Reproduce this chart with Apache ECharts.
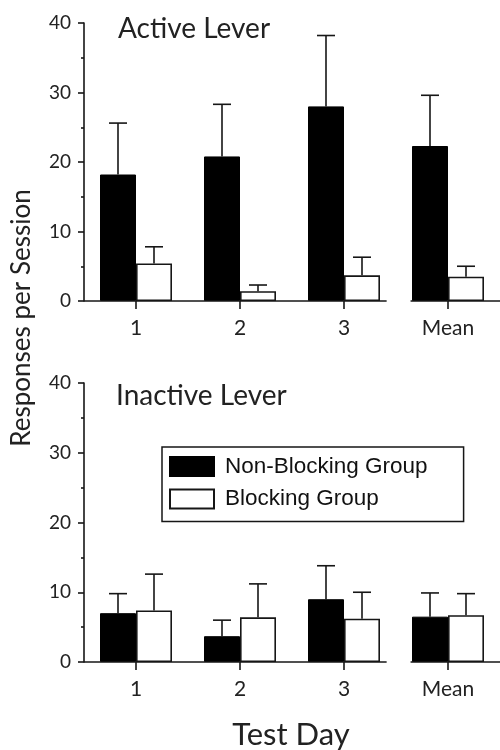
<!DOCTYPE html>
<html>
<head>
<meta charset="utf-8">
<script src="https://cdn.jsdelivr.net/npm/echarts@6/dist/echarts.min.js"></script>
<style>html,body{margin:0;padding:0;background:#fff;}#c{width:500px;height:750px;}</style>
</head>
<body>
<div id="c"></div>
<script>
const categories = ['1', '2', '3', 'Mean'];
const yTicks = { min: 0, max: 40, interval: 10 };

const activeNonBlocking = [18.2, 20.8, 28.0, 22.3];
const activeNonBlockingSEM = [7.4, 7.5, 10.2, 7.3];
const activeBlocking = [5.4, 1.4, 3.7, 3.5];
const activeBlockingSEM = [2.4, 0.9, 2.6, 1.5];

const inactiveNonBlocking = [7.0, 3.7, 9.0, 6.5];
const inactiveNonBlockingSEM = [2.8, 2.3, 4.8, 3.4];
const inactiveBlocking = [7.4, 6.4, 6.2, 6.7];
const inactiveBlockingSEM = [5.2, 4.8, 3.8, 3.1];

// x-axis baseline segments (in category units) with the break before "Mean"
const axisSegments = [[-0.5, 2.41], [2.64, 3.6]];

const panelTitles = ['Active Lever', 'Inactive Lever'];
const seriesNames = ['Non-Blocking Group', 'Blocking Group'];

const INK = '#161616';
const FONT = 'Lato';

function errRender(offset) {
  return function (params, api) {
    const i = api.value(0), v = api.value(1), e = api.value(2);
    const p0 = api.coord([i, v]);
    const p1 = api.coord([i, v + e]);
    const x = p0[0] + offset;
    return {
      type: 'group',
      children: [
        { type: 'line', shape: { x1: x, y1: p0[1], x2: x, y2: p1[1] }, style: { stroke: INK, lineWidth: 1.6 } },
        { type: 'line', shape: { x1: x - 9, y1: p1[1], x2: x + 9, y2: p1[1] }, style: { stroke: INK, lineWidth: 1.6 } }
      ]
    };
  };
}

function segRender(params, api) {
  const a = api.coord([api.value(0), 0]);
  const b = api.coord([api.value(1), 0]);
  return { type: 'line', shape: { x1: a[0], y1: a[1], x2: b[0], y2: b[1] }, style: { stroke: INK, lineWidth: 1.6 } };
}

const grids = [
  { left: 84, width: 420, top: 23, height: 278 },
  { left: 84, width: 420, top: 383, height: 279 }
];

const xAxes = [], yAxes = [], series = [];
const panels = [
  [activeNonBlocking, activeNonBlockingSEM, activeBlocking, activeBlockingSEM],
  [inactiveNonBlocking, inactiveNonBlockingSEM, inactiveBlocking, inactiveBlockingSEM]
];

panels.forEach((p, g) => {
  xAxes.push({
    type: 'category', gridIndex: g, data: categories,
    axisLine: { show: false },
    axisTick: { show: true, alignWithLabel: true, length: 8, lineStyle: { color: INK, width: 1.6 } },
    axisLabel: { fontFamily: FONT, fontSize: 21, color: '#222', margin: 17 }
  });
  xAxes.push({ type: 'value', gridIndex: g, min: -0.5, max: 3.5, show: false });
  yAxes.push({
    type: 'value', gridIndex: g, min: yTicks.min, max: yTicks.max, interval: yTicks.interval,
    axisLine: { show: true, onZero: false, lineStyle: { color: INK, width: 1.6 } },
    axisTick: { show: true, length: 6, lineStyle: { color: INK, width: 1.6 } },
    minorTick: { show: true, splitNumber: 2, length: 3, lineStyle: { color: INK, width: 1.6 } },
    splitLine: { show: false },
    axisLabel: { fontFamily: FONT, fontSize: 19, color: '#222', margin: 13 }
  });
  const xi = g * 2;
  series.push({
    name: seriesNames[0], type: 'bar', xAxisIndex: xi, yAxisIndex: g,
    data: p[0], barWidth: 36, barGap: '0%',
    itemStyle: { color: '#000', borderColor: '#000', borderWidth: 1 }
  });
  series.push({
    name: seriesNames[1], type: 'bar', xAxisIndex: xi, yAxisIndex: g,
    data: p[2], barWidth: 36, barGap: '0%',
    itemStyle: { color: '#fff', borderColor: INK, borderWidth: 1.6 }
  });
  series.push({
    type: 'custom', xAxisIndex: xi, yAxisIndex: g, z: 5,
    renderItem: errRender(-18),
    data: categories.map((c, i) => [i, p[0][i], p[1][i]])
  });
  series.push({
    type: 'custom', xAxisIndex: xi, yAxisIndex: g, z: 5,
    renderItem: errRender(18),
    data: categories.map((c, i) => [i, p[2][i], p[3][i]])
  });
  series.push({
    type: 'custom', xAxisIndex: xi + 1, yAxisIndex: g, z: 6,
    renderItem: segRender,
    encode: { x: [0, 1] },
    data: axisSegments.map(s => [s[0], s[1]])
  });
});

const chart = echarts.init(document.getElementById('c'), null, { renderer: 'canvas' });
chart.setOption({
  animation: false,
  backgroundColor: '#fff',
  title: [
    { text: panelTitles[0], left: 113, top: 10, textStyle: { fontFamily: FONT, fontSize: 28, fontWeight: 'normal', color: '#222' } },
    { text: panelTitles[1], left: 111, top: 377, textStyle: { fontFamily: FONT, fontSize: 28, fontWeight: 'normal', color: '#222' } }
  ],
  legend: {
    data: seriesNames,
    orient: 'vertical', left: 162, top: 447,
    padding: [8, 36, 11, 7], itemGap: 9.5, itemWidth: 44, itemHeight: 19,
    icon: 'rect',
    borderColor: INK, borderWidth: 1.5,
    textStyle: { fontFamily: 'Liberation Sans', fontSize: 22.5, lineHeight: 22, color: '#111', padding: [0, 0, 0, 6] }
  },
  grid: grids,
  xAxis: xAxes,
  yAxis: yAxes,
  series: series,
  graphic: [
    { type: 'text', x: 22, y: 318, rotation: Math.PI / 2,
      style: { text: 'Responses per Session', fontFamily: FONT, fontSize: 26, fill: '#222', textAlign: 'center', textVerticalAlign: 'middle' } },
    { type: 'text', x: 291, y: 735,
      style: { text: 'Test Day', fontFamily: FONT, fontSize: 31, fill: '#222', textAlign: 'center', textVerticalAlign: 'middle' } }
  ]
});
</script>
</body>
</html>
